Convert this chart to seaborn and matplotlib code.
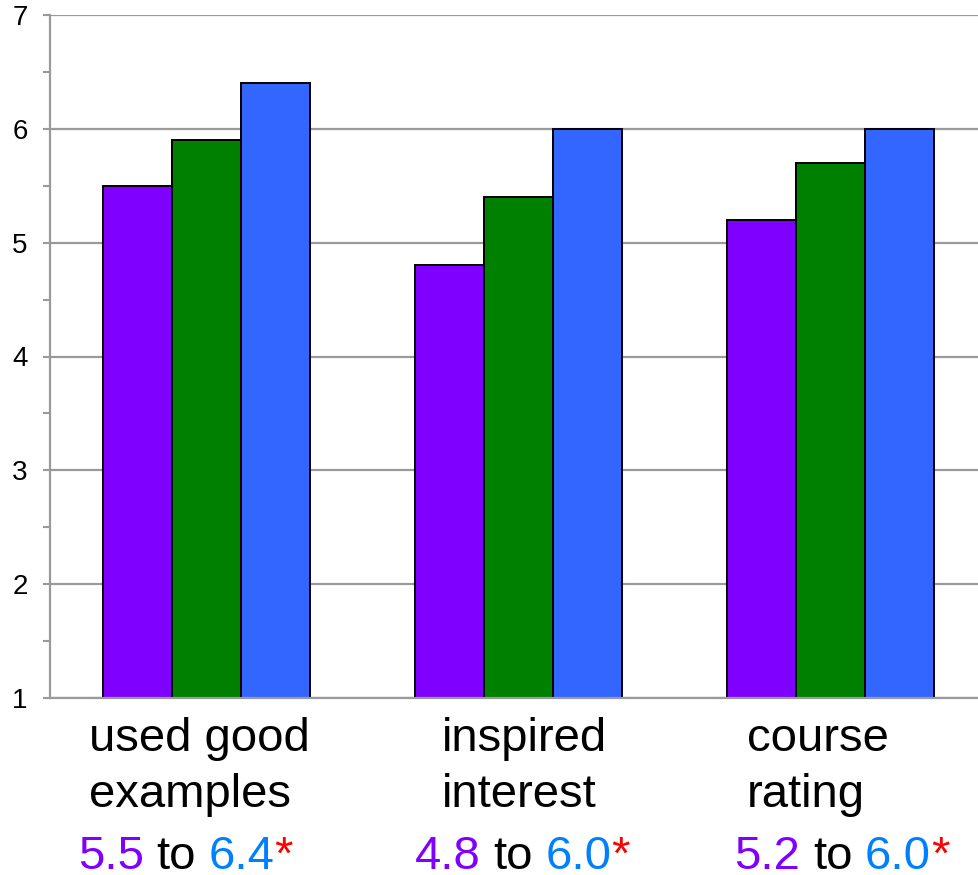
import matplotlib
matplotlib.use("Agg")
import matplotlib.pyplot as plt
import pandas as pd
import seaborn as sns
from matplotlib.ticker import MultipleLocator

# Survey items and mean ratings for the three course offerings
items = ["used good\nexamples", "inspired\ninterest", "course\nrating"]
offerings = ["first", "second", "third"]
first = [5.5, 4.8, 5.2]
second = [5.9, 5.4, 5.7]
third = [6.4, 6.0, 6.0]
yticks = [1, 2, 3, 4, 5, 6, 7]

bar_colors = ["#7F00FF", "#008000", "#3366FF"]
low_text = "#8000FF"
high_text = "#0080FF"
grid_gray = "#9A9A9A"

# horizontal nudges (pixels) of the text blocks under each group
name_nudge = [-7, 6, -13]
summary_nudge = [-21, 4, 11]

rows = []
for name, vals in zip(offerings, [first, second, third]):
    for item, v in zip(items, vals):
        rows.append({"item": item, "offering": name, "score": v})
df = pd.DataFrame(rows)

sns.set_style("white")
plt.rcParams["font.family"] = ["Liberation Sans", "DejaVu Sans"]

W, H = 979, 875
fig = plt.figure(figsize=(W / 100, H / 100), dpi=100)
ax = fig.add_axes([50 / W, 177 / H, 937 / W, 683 / H])

sns.barplot(data=df, x="item", y="score", hue="offering", order=items,
            hue_order=offerings, palette=bar_colors, width=0.663,
            saturation=1, edgecolor="black", linewidth=1.4, legend=False,
            ax=ax)

ax.set_xlim(-0.5, len(items) - 0.5)
ax.set_ylim(yticks[0], yticks[-1])
ax.set_yticks(yticks)
ax.yaxis.set_minor_locator(MultipleLocator(0.5))
ax.set_axisbelow(True)
ax.grid(axis="y", which="major", color=grid_gray, linewidth=1.6)
ax.grid(axis="x", visible=False)
for side in ["top", "right"]:
    ax.spines[side].set_visible(False)
for side in ["left", "bottom"]:
    ax.spines[side].set_color(grid_gray)
    ax.spines[side].set_linewidth(1.6)
ax.tick_params(axis="y", which="both", direction="out", length=5,
               width=1.5, color=grid_gray, pad=11, left=True)
ax.tick_params(axis="y", which="major", labelsize=20, labelcolor="black")
ax.tick_params(axis="x", length=0, labelbottom=False)
ax.set_xlabel("")
ax.set_ylabel("")

PT = 72 / 100  # points per pixel

# Two-line item names under each group, left aligned within the block
name_lines = []
for i, name in enumerate(items):
    texts = []
    for line, base in zip(name.split("\n"), [53, 109]):
        t = ax.annotate(line, xy=(i, 0), xycoords=("data", "axes fraction"),
                        xytext=(0, -base * PT), textcoords="offset points",
                        ha="left", va="baseline", fontsize=34, color="black")
        texts.append(t)
    name_lines.append(texts)

# Change summary line: first value to third value, with significance mark
summaries = []
space = 9.0
for i in range(len(items)):
    pieces = [(f"{first[i]:.1f}", low_text, 0), ("to", "black", space),
              (f"{third[i]:.1f}", high_text, space), ("*", "red", 0)]
    head = ax.annotate(pieces[0][0], xy=(i, 0),
                       xycoords=("data", "axes fraction"),
                       xytext=(0, -171 * PT), textcoords="offset points",
                       ha="left", va="baseline", fontsize=34,
                       color=pieces[0][1])
    prev = head
    chain = [head]
    for txt, col, gap in pieces[1:]:
        t = ax.annotate(txt, xy=(1, 0), xycoords=prev, xytext=(gap, 0),
                        textcoords="offset points", ha="left", va="bottom",
                        fontsize=34, color=col)
        chain.append(t)
        prev = t
    summaries.append(chain)

fig.canvas.draw()
r = fig.canvas.get_renderer()
for i, texts in enumerate(name_lines):
    w = max(t.get_window_extent(r).width for t in texts)
    for t in texts:
        t.xyann = ((-w / 2 + name_nudge[i]) * PT, t.xyann[1])
fig.canvas.draw()
for i, chain in enumerate(summaries):
    x0 = chain[0].get_window_extent(r).x0
    x1 = chain[-1].get_window_extent(r).x1
    chain[0].xyann = ((-(x1 - x0) / 2 + summary_nudge[i]) * PT,
                      chain[0].xyann[1])

fig.savefig("out.png", dpi=100)
